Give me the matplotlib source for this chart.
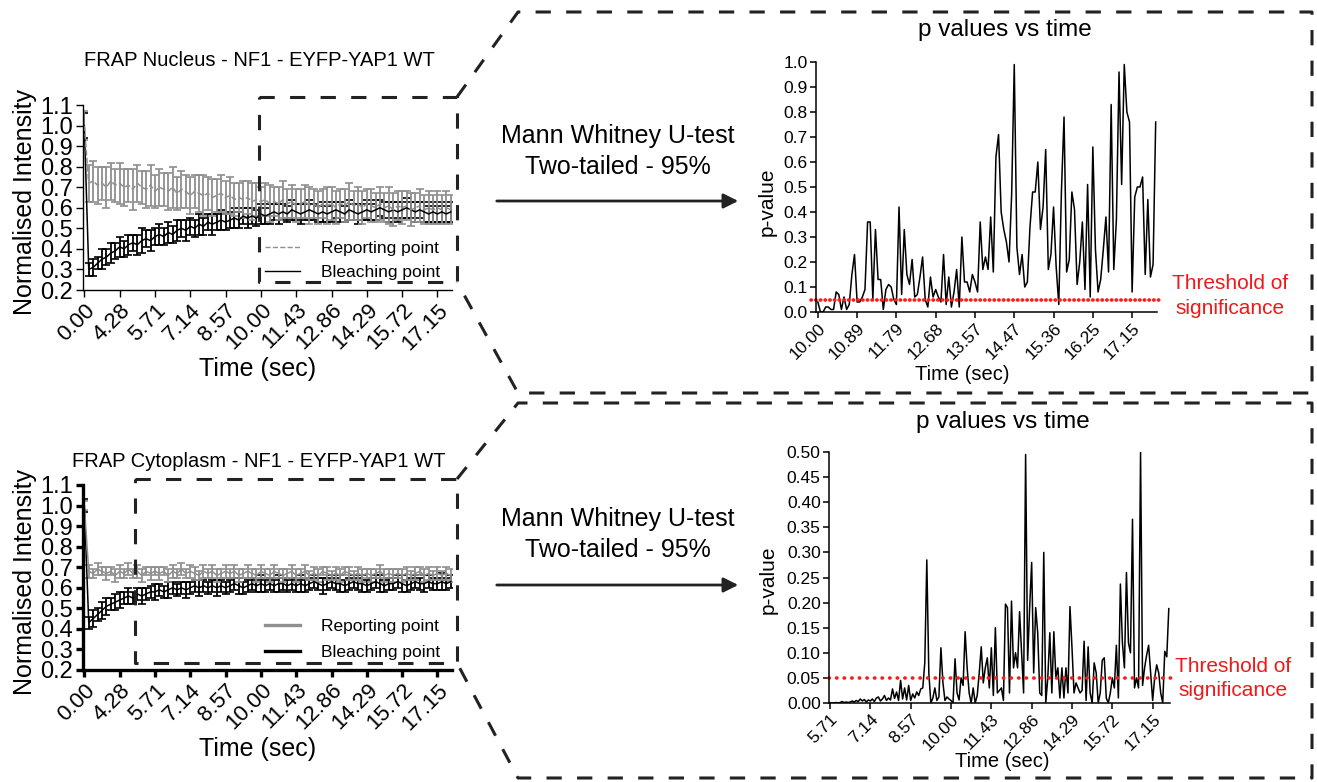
import numpy as np
import matplotlib
matplotlib.use('Agg')
import matplotlib.pyplot as plt
import matplotlib.transforms as mtrans
from matplotlib.lines import Line2D

plt.rcParams['font.family'] = ['Liberation Sans', 'DejaVu Sans']

W, H = 1317, 782

# ---------------- data ----------------
frap_ticks = ['0.00', '4.28', '5.71', '7.14', '8.57', '10.00', '11.43', '12.86', '14.29', '15.72', '17.15']
nuc_p_ticks = ['10.00', '10.89', '11.79', '12.68', '13.57', '14.47', '15.36', '16.25', '17.15']
cyt_p_ticks = ['5.71', '7.14', '8.57', '10.00', '11.43', '12.86', '14.29', '15.72', '17.15']
threshold = 0.05

# FRAP nucleus (mean +/- error), one value per frame
nuc_rep = [1.00,
           0.72, 0.73, 0.71, 0.72, 0.70, 0.73, 0.71, 0.72,
           0.70, 0.71, 0.69, 0.72, 0.70, 0.69, 0.71, 0.68,
           0.70, 0.69, 0.68, 0.70, 0.67, 0.69, 0.68, 0.66,
           0.68, 0.67, 0.66, 0.67, 0.65, 0.66, 0.67, 0.65,
           0.66, 0.64, 0.65, 0.64, 0.65, 0.63, 0.64, 0.63,
           0.64, 0.62, 0.63, 0.62, 0.64, 0.62, 0.63, 0.61,
           0.62, 0.63, 0.61, 0.62, 0.60, 0.62, 0.61, 0.62,
           0.60, 0.62, 0.61, 0.63, 0.61, 0.62, 0.60, 0.62,
           0.61, 0.60, 0.62, 0.60, 0.61, 0.59, 0.61, 0.60,
           0.61, 0.59, 0.60, 0.61, 0.59, 0.60, 0.59, 0.60,
           0.59, 0.60, 0.59]
nuc_rep_err = [0.07,
               0.09, 0.10, 0.09, 0.08, 0.10, 0.09, 0.08, 0.10,
               0.09, 0.08, 0.10, 0.09, 0.08, 0.09, 0.10, 0.08,
               0.09, 0.08, 0.09, 0.10, 0.08, 0.09, 0.08, 0.09,
               0.08, 0.09, 0.10, 0.08, 0.09, 0.08, 0.09, 0.08,
               0.09, 0.08, 0.07, 0.09, 0.08, 0.09, 0.08, 0.07,
               0.08, 0.09, 0.07, 0.08, 0.09, 0.07, 0.08, 0.08,
               0.07, 0.08, 0.09, 0.07, 0.08, 0.07, 0.09, 0.08,
               0.08, 0.07, 0.08, 0.09, 0.07, 0.08, 0.08, 0.07,
               0.08, 0.07, 0.08, 0.07, 0.09, 0.08, 0.07, 0.08,
               0.07, 0.08, 0.07, 0.08, 0.07, 0.08, 0.07, 0.08,
               0.07, 0.08, 0.07]
nuc_blc = [1.00,
           0.30, 0.31, 0.33, 0.35, 0.36, 0.38, 0.39, 0.41,
           0.40, 0.42, 0.43, 0.42, 0.44, 0.45, 0.44, 0.46,
           0.47, 0.46, 0.48, 0.47, 0.49, 0.50, 0.49, 0.51,
           0.50, 0.52, 0.51, 0.53, 0.52, 0.53, 0.54, 0.53,
           0.54, 0.55, 0.54, 0.56, 0.55, 0.56, 0.55, 0.57,
           0.56, 0.57, 0.58, 0.57, 0.58, 0.57, 0.59, 0.58,
           0.57, 0.58, 0.59, 0.58, 0.57, 0.58, 0.57, 0.58,
           0.59, 0.58, 0.57, 0.59, 0.58, 0.57, 0.58, 0.59,
           0.58, 0.59, 0.60, 0.59, 0.58, 0.59, 0.58, 0.59,
           0.60, 0.59, 0.58, 0.59, 0.58, 0.57, 0.58, 0.57,
           0.58, 0.57, 0.58]
nuc_blc_err = [0.06,
               0.03, 0.04, 0.03, 0.05, 0.04, 0.05, 0.04, 0.05,
               0.04, 0.05, 0.04, 0.05, 0.06, 0.04, 0.05, 0.04,
               0.05, 0.04, 0.05, 0.04, 0.05, 0.04, 0.05, 0.04,
               0.04, 0.05, 0.04, 0.04, 0.05, 0.04, 0.05, 0.04,
               0.04, 0.05, 0.04, 0.04, 0.05, 0.04, 0.04, 0.05,
               0.04, 0.05, 0.04, 0.05, 0.04, 0.04, 0.05, 0.04,
               0.05, 0.04, 0.05, 0.04, 0.04, 0.05, 0.04, 0.05,
               0.04, 0.05, 0.04, 0.05, 0.04, 0.05, 0.04, 0.05,
               0.04, 0.05, 0.04, 0.04, 0.05, 0.04, 0.05, 0.04,
               0.05, 0.04, 0.05, 0.04, 0.05, 0.04, 0.05, 0.04,
               0.05, 0.04, 0.05]

# FRAP cytoplasm
cyt_rep = [1.00,
           0.68, 0.67, 0.69, 0.68, 0.67, 0.68, 0.66, 0.68,
           0.67, 0.69, 0.67, 0.68, 0.66, 0.68, 0.67, 0.68,
           0.67, 0.68, 0.66, 0.68, 0.67, 0.69, 0.67, 0.68,
           0.67, 0.66, 0.68, 0.67, 0.68, 0.66, 0.67, 0.68,
           0.67, 0.68, 0.66, 0.67, 0.68, 0.67, 0.66, 0.68,
           0.67, 0.66, 0.68, 0.67, 0.66, 0.67, 0.68, 0.66,
           0.67, 0.68, 0.66, 0.67, 0.66, 0.68, 0.67, 0.66,
           0.67, 0.66, 0.68, 0.67, 0.66, 0.67, 0.66, 0.67,
           0.66, 0.67, 0.68, 0.66, 0.67, 0.66, 0.67, 0.66,
           0.67, 0.66, 0.67, 0.68, 0.66, 0.67, 0.66, 0.67,
           0.66, 0.67, 0.66]
cyt_rep_err = [0.02,
               0.03, 0.02, 0.03, 0.02, 0.03, 0.02, 0.03, 0.03,
               0.02, 0.03, 0.02, 0.03, 0.03, 0.02, 0.03, 0.02,
               0.03, 0.02, 0.03, 0.03, 0.02, 0.03, 0.02, 0.03,
               0.03, 0.02, 0.03, 0.02, 0.03, 0.03, 0.02, 0.03,
               0.02, 0.03, 0.03, 0.02, 0.03, 0.02, 0.03, 0.03,
               0.02, 0.03, 0.03, 0.02, 0.03, 0.02, 0.03, 0.03,
               0.02, 0.03, 0.02, 0.03, 0.03, 0.02, 0.03, 0.02,
               0.03, 0.03, 0.02, 0.03, 0.02, 0.03, 0.03, 0.02,
               0.03, 0.02, 0.03, 0.03, 0.02, 0.03, 0.02, 0.03,
               0.03, 0.02, 0.03, 0.02, 0.03, 0.03, 0.02, 0.03,
               0.02, 0.03, 0.03]
cyt_blc = [1.00,
           0.43, 0.45, 0.47, 0.49, 0.51, 0.52, 0.53, 0.54,
           0.55, 0.56, 0.55, 0.57, 0.56, 0.57, 0.58, 0.58,
           0.59, 0.58, 0.59, 0.60, 0.59, 0.60, 0.59, 0.60,
           0.61, 0.60, 0.61, 0.60, 0.61, 0.60, 0.61, 0.60,
           0.61, 0.62, 0.61, 0.60, 0.61, 0.62, 0.61, 0.62,
           0.61, 0.62, 0.61, 0.62, 0.62, 0.61, 0.62, 0.61,
           0.62, 0.61, 0.62, 0.63, 0.62, 0.61, 0.62, 0.63,
           0.62, 0.62, 0.61, 0.62, 0.63, 0.62, 0.62, 0.61,
           0.62, 0.63, 0.62, 0.61, 0.62, 0.62, 0.63, 0.62,
           0.61, 0.62, 0.63, 0.62, 0.62, 0.63, 0.62, 0.62,
           0.63, 0.62, 0.63]
cyt_blc_err = [0.03,
               0.03, 0.04, 0.03, 0.04, 0.04, 0.03, 0.04, 0.04,
               0.03, 0.04, 0.03, 0.03, 0.04, 0.03, 0.03, 0.04,
               0.03, 0.03, 0.04, 0.03, 0.03, 0.03, 0.04, 0.03,
               0.03, 0.04, 0.03, 0.03, 0.03, 0.04, 0.03, 0.03,
               0.03, 0.03, 0.04, 0.03, 0.03, 0.03, 0.03, 0.04,
               0.03, 0.03, 0.03, 0.04, 0.03, 0.03, 0.03, 0.03,
               0.04, 0.03, 0.03, 0.03, 0.03, 0.04, 0.03, 0.03,
               0.03, 0.04, 0.03, 0.03, 0.03, 0.03, 0.04, 0.03,
               0.03, 0.03, 0.04, 0.03, 0.03, 0.03, 0.03, 0.04,
               0.03, 0.03, 0.03, 0.03, 0.04, 0.03, 0.03, 0.03,
               0.04, 0.03, 0.03]

# p values, nucleus (15 frames per tick)
nuc_p = [0.04, 0.00, 0.00, 0.02, 0.02, 0.01, 0.01, 0.08, 0.07, 0.01, 0.06, 0.01, 0.03, 0.15, 0.23,
         0.04, 0.04, 0.06, 0.09, 0.36, 0.36, 0.05, 0.33, 0.13, 0.13, 0.01, 0.09, 0.11, 0.10, 0.05,
         0.03, 0.42, 0.07, 0.33, 0.15, 0.11, 0.21, 0.06, 0.07, 0.14, 0.22, 0.05, 0.02, 0.14, 0.06,
         0.09, 0.06, 0.04, 0.23, 0.03, 0.14, 0.02, 0.08, 0.17, 0.02, 0.30, 0.12, 0.12, 0.08, 0.15,
         0.12, 0.08, 0.36, 0.17, 0.22, 0.17, 0.38, 0.16, 0.62, 0.71, 0.40, 0.33, 0.28, 0.20, 0.47,
         0.99, 0.26, 0.15, 0.23, 0.10, 0.12, 0.34, 0.48, 0.48, 0.60, 0.33, 0.42, 0.65, 0.17, 0.23,
         0.42, 0.18, 0.03, 0.48, 0.78, 0.16, 0.21, 0.48, 0.41, 0.11, 0.20, 0.36, 0.09, 0.51, 0.06,
         0.66, 0.25, 0.08, 0.13, 0.25, 0.38, 0.16, 0.83, 0.17, 0.37, 0.96, 0.51, 0.99, 0.80, 0.76,
         0.08, 0.46, 0.50, 0.50, 0.54, 0.15, 0.45, 0.14, 0.19, 0.76]

# p values, cytoplasm (20 frames per tick)
cyt_p = [0.000, 0.000, 0.000, 0.001, 0.000, 0.001, 0.003, 0.001, 0.002, 0.001,
         0.002, 0.004, 0.002, 0.005, 0.003, 0.008, 0.004, 0.007, 0.002, 0.006,
         0.004, 0.008, 0.003, 0.010, 0.012, 0.004, 0.008, 0.015, 0.005, 0.010,
         0.006, 0.028, 0.009, 0.022, 0.005, 0.045, 0.008, 0.030, 0.006, 0.035,
         0.005, 0.018, 0.010, 0.022, 0.015, 0.028, 0.030, 0.080, 0.285, 0.060,
         0.000, 0.010, 0.030, 0.005, 0.012, 0.110, 0.040, 0.005, 0.012, 0.008,
         0.005, 0.000, 0.088, 0.020, 0.006, 0.050, 0.035, 0.142, 0.070, 0.020,
         0.000, 0.030, 0.000, 0.015, 0.060, 0.112, 0.040, 0.070, 0.090, 0.030,
         0.110, 0.015, 0.150, 0.020, 0.025, 0.030, 0.005, 0.197, 0.190, 0.020,
         0.203, 0.070, 0.100, 0.070, 0.182, 0.100, 0.020, 0.495, 0.085, 0.190,
         0.280, 0.060, 0.190, 0.140, 0.020, 0.015, 0.300, 0.000, 0.050, 0.140,
         0.020, 0.142, 0.050, 0.070, 0.010, 0.070, 0.010, 0.070, 0.020, 0.192,
         0.110, 0.020, 0.040, 0.030, 0.020, 0.025, 0.123, 0.005, 0.112, 0.020,
         0.000, 0.080, 0.060, 0.000, 0.020, 0.085, 0.090, 0.010, 0.000, 0.020,
         0.050, 0.030, 0.115, 0.010, 0.237, 0.120, 0.070, 0.260, 0.120, 0.100,
         0.366, 0.030, 0.050, 0.030, 0.500, 0.035, 0.070, 0.095, 0.115, 0.060,
         0.005, 0.050, 0.076, 0.060, 0.020, 0.000, 0.103, 0.092, 0.188]

# ---------------- figure ----------------
fig = plt.figure(figsize=(W / 100, H / 100), dpi=100)


def box(l, t, r, b):
    return [l / W, 1 - b / H, (r - l) / W, (b - t) / H]


def label(x, y, s, **kw):
    fig.text(x / W, 1 - y / H, s, ha='center', va='center', **kw)


def frap_panel(rect, rep, rep_err, blc, blc_err, spine_w, rep_ls, leg_lw, leg_y, leg_sp):
    ax = fig.add_axes(box(*rect))
    x = np.arange(len(rep))
    ax.errorbar(x, blc, yerr=blc_err, color='black', lw=1.1, elinewidth=1.3,
                capsize=2.6, capthick=1.2)
    ax.errorbar(x, rep, yerr=rep_err, color='#8f8f8f', ls=rep_ls, lw=1.1,
                elinewidth=1.3, capsize=2.6, capthick=1.2)
    ax.set_xlim(-0.3, 83.3)
    ax.set_ylim(0.2, 1.1)
    ax.set_yticks(np.arange(0.2, 1.101, 0.1))
    ax.yaxis.set_major_formatter(plt.FormatStrFormatter('%.1f'))
    ax.set_xticks(np.arange(0, 81, 8))
    ax.set_xticklabels(frap_ticks, rotation=45, ha='right', rotation_mode='anchor')
    shift = mtrans.ScaledTranslation(5 / 100, 0, fig.dpi_scale_trans)
    for t in ax.get_xticklabels():
        t.set_transform(t.get_transform() + shift)
    for s in ['top', 'right']:
        ax.spines[s].set_visible(False)
    for s in ['left', 'bottom']:
        ax.spines[s].set_linewidth(spine_w)
    ax.tick_params(direction='out', length=5, width=spine_w, labelsize=17, pad=2)
    ax.tick_params(axis='x', labelsize=16)
    ax.set_ylabel('Normalised Intensity', fontsize=18)
    ax.yaxis.set_label_coords(-0.125, 0.476)
    ax.set_xlabel('Time (sec)', fontsize=18)
    ax.xaxis.set_label_coords(0.472, -0.36)
    handles = [Line2D([], [], color='#8f8f8f', ls=rep_ls, lw=leg_lw),
               Line2D([], [], color='black', lw=leg_lw)]
    ax.legend(handles, ['Reporting point', 'Bleaching point'], loc='lower right',
              bbox_to_anchor=(1.01, leg_y), frameon=False, fontsize=12.5,
              handlelength=2.0, labelspacing=leg_sp, handletextpad=1.2)
    return ax


def p_panel(rect, p, per_tick, ticks, ymax, ystep, fmt, xlim, red_span, dot):
    ax = fig.add_axes(box(*rect))
    ax.plot(np.arange(len(p)), p, color='black', lw=1.1)
    ax.plot(red_span, [threshold, threshold], color='#ff1a1a', lw=2.6,
            ls=(0, dot), dash_capstyle='round', clip_on=False)
    ax.set_xlim(*xlim)
    ax.set_ylim(0, ymax)
    ax.set_yticks(np.arange(0, ymax + 1e-9, ystep))
    ax.yaxis.set_major_formatter(plt.FormatStrFormatter(fmt))
    ax.set_xticks(np.arange(len(ticks)) * per_tick)
    ax.set_xticklabels(ticks, rotation=45, ha='right', rotation_mode='anchor')
    shift = mtrans.ScaledTranslation(4 / 100, 0, fig.dpi_scale_trans)
    for t in ax.get_xticklabels():
        t.set_transform(t.get_transform() + shift)
    for s in ['top', 'right']:
        ax.spines[s].set_visible(False)
    for s in ['left', 'bottom']:
        ax.spines[s].set_linewidth(1.1)
    ax.tick_params(direction='out', length=4, width=1.1, labelsize=12.5, pad=2)
    ax.set_ylabel('p-value', fontsize=15)
    ax.set_xlabel('Time (sec)', fontsize=14.5)
    return ax


frap_panel((83, 105, 452, 290), nuc_rep, nuc_rep_err, nuc_blc, nuc_blc_err,
           1.0, '--', 1.0, -0.03, 0.5)
frap_panel((83, 485, 452, 670), cyt_rep, cyt_rep_err, cyt_blc, cyt_blc_err,
           2.4, '-', 2.4, -0.03, 0.62)
label(259, 60, 'FRAP Nucleus - NF1 - EYFP-YAP1 WT', fontsize=14.5)
label(259, 462, 'FRAP Cytoplasm - NF1 - EYFP-YAP1 WT', fontsize=14.5)

ax_n = p_panel((816, 62, 1157, 312), nuc_p, 15, nuc_p_ticks, 1.0, 0.1, '%.1f',
               (-0.7, 129.5), [-2.5, 131.9], (0.1, 1.2))
ax_n.yaxis.set_label_coords(-0.115, 0.44)
ax_n.xaxis.set_label_coords(0.43, -0.21)
ax_c = p_panel((829, 452, 1170, 703), cyt_p, 20, cyt_p_ticks, 0.5, 0.05, '%.2f',
               (-0.5, 168.6), [-0.5, 171.0], (0.1, 2.0))
ax_c.yaxis.set_label_coords(-0.15, 0.49)
ax_c.xaxis.set_label_coords(0.508, -0.195)

label(1005, 30, 'p values vs time', fontsize=17.5)
label(1003, 422, 'p values vs time', fontsize=17.5)
label(1230, 283, 'Threshold of', fontsize=15, color='#f01818')
label(1230, 308, 'significance', fontsize=15, color='#f01818')
label(1233, 666, 'Threshold of', fontsize=15, color='#f01818')
label(1233, 691, 'significance', fontsize=15, color='#f01818')

for y in (136, 519):
    label(618, y, 'Mann Whitney U-test', fontsize=18)
    label(618, y + 31, 'Two-tailed - 95%', fontsize=18)

# overlay for zoom boxes, connectors and arrows (pixel coordinates)
ov = fig.add_axes([0, 0, 1, 1])
ov.set_xlim(0, W)
ov.set_ylim(H, 0)
ov.axis('off')
dash = dict(color='#222222', lw=2.2, dashes=(5, 5))
ov.plot([259, 457, 457, 259, 259], [97, 97, 282, 282, 97], **dash)
ov.plot([135, 457, 457, 135, 135], [479, 479, 663, 663, 479], **dash)
ov.plot([457, 518, 1312, 1312, 518, 457], [97, 12, 12, 393, 393, 282], **dash)
ov.plot([457, 518, 1312, 1312, 518, 457], [479, 403, 403, 778, 778, 663], **dash)
for y in (201, 585):
    ov.annotate('', xy=(741, y), xytext=(494, y),
                arrowprops=dict(arrowstyle='-|>', color='#222222', lw=2,
                                mutation_scale=22))

fig.savefig('out.png', dpi=100)
